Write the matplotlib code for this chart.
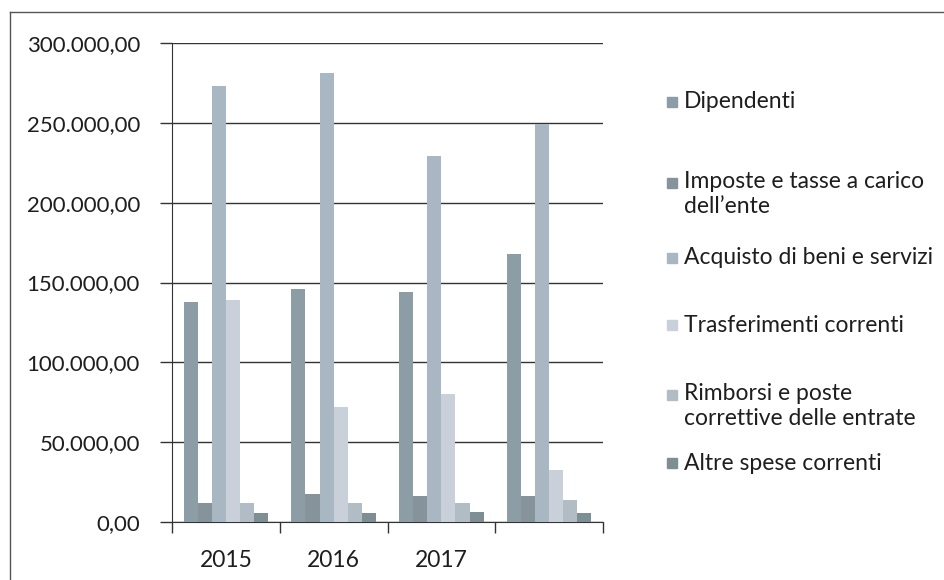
import matplotlib.pyplot as plt
import matplotlib.patches as mpatches
import numpy as np
from matplotlib.ticker import FuncFormatter

# dati
anni = ['2015', '2016', '2017', '']
dipendenti = [138000, 146000, 144000, 168000]
imposte = [12000, 17500, 16000, 16500]
acquisto = [273000, 281000, 229000, 249000]
trasferimenti = [139000, 72000, 80000, 32500]
rimborsi = [12000, 12000, 12000, 13500]
altre = [5500, 5500, 6000, 5500]

serie = ['Dipendenti', 'Imposte e tasse a carico\ndell\u2019ente',
         'Acquisto di beni e servizi', 'Trasferimenti correnti',
         'Rimborsi e poste\ncorrettive delle entrate', 'Altre spese correnti']
valori = [dipendenti, imposte, acquisto, trasferimenti, rimborsi, altre]
colori = ['#8d9da5', '#87939a', '#a9b7c3', '#c9d0da', '#b2bcc4', '#7f8e92']

plt.rcParams['font.family'] = ['Lato', 'DejaVu Sans']

fig = plt.figure(figsize=(9.44, 5.8), dpi=100)
ax = fig.add_axes([172/944, 1-522/580, 431/944, 479/580])

x = np.arange(len(anni))
w = 0.131
for i, (v, c) in enumerate(zip(valori, colori)):
    ax.bar(x + (i - 2.5)*w, v, w, color=c, edgecolor='none', zorder=3)

ax.set_ylim(0, 300000)
ax.set_xlim(-0.5, 3.5)
ax.set_yticks(np.arange(0, 300001, 50000))
# formato italiano: 300.000,00
ax.yaxis.set_major_formatter(FuncFormatter(
    lambda v, p: '{:,.2f}'.format(v).replace(',', 'X').replace('.', ',').replace('X', '.')))
ax.yaxis.grid(True, color='#333333', linewidth=1.0, zorder=0)
ax.set_xticks(x)
ax.set_xticklabels(anni)
ax.set_xticks(np.arange(-0.5, 4, 1), minor=True)
ax.tick_params(axis='x', which='major', length=0, pad=20, labelsize=16.5, labelcolor='#1e1e1e')
ax.tick_params(axis='x', which='minor', length=8, width=1, color='#333333')
ax.tick_params(axis='y', length=9, width=1, color='#333333', pad=14, labelsize=16, labelcolor='#1e1e1e')
for s in ['top', 'right']:
    ax.spines[s].set_visible(False)
ax.spines['left'].set_color('#333333')
ax.spines['bottom'].set_color('#333333')

# legenda a destra, fatta a mano
ypos = [102, 194, 258, 325, 406, 463]
for lab, c, yp in zip(serie, colori, ypos):
    due_righe = '\n' in lab
    ym = yp - 11 if due_righe else yp
    fig.add_artist(mpatches.Rectangle((667/944, 1-(ym+5)/580), 10/944, 10/580,
                                      color=c, transform=fig.transFigure))
    if due_righe:
        fig.text(684/944, 1-(ym-12)/580, lab, fontsize=16.5, color='#1e1e1e',
                 va='top', ha='left', linespacing=1.25)
    else:
        fig.text(684/944, 1-ym/580, lab, fontsize=16.5, color='#1e1e1e',
                 va='center', ha='left')

# cornice
fig.add_artist(plt.Line2D([10/944, 10/944], [0, 1-12/580], color='#555555', lw=1))
fig.add_artist(plt.Line2D([10/944, 1], [1-12/580, 1-12/580], color='#555555', lw=1))

fig.savefig('out.png', dpi=100)
